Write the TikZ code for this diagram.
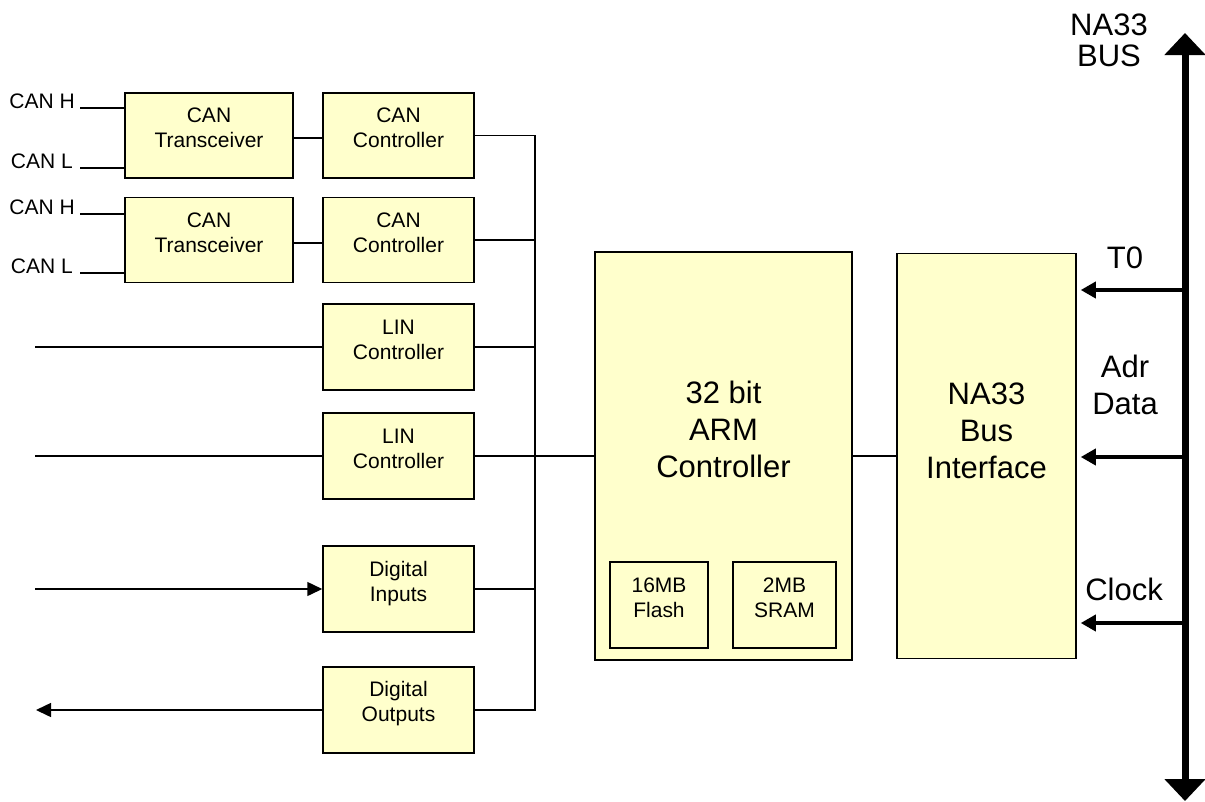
\documentclass[tikz,border=0pt]{standalone}
\usepackage{fontspec}
\setmainfont{Liberation Sans}
\usetikzlibrary{arrows.meta}
\definecolor{boxfill}{HTML}{FFFFCC}
\begin{document}
\begin{tikzpicture}[x=1pt,y=-1pt,
  box/.style={draw=black, line width=1.5pt, fill=boxfill, inner sep=0pt},
  sm/.style={font=\fontsize{21}{25}\selectfont, align=center, inner sep=0pt},
  big/.style={font=\fontsize{31}{37}\selectfont, align=center, inner sep=0pt},
  wire/.style={line width=1.5pt},
  arr/.style={wire, -{Triangle[length=15pt,width=14pt]}},
  barr/.style={line width=3.5pt, -{Triangle[length=15pt,width=16pt]}},
]
\useasboundingbox (0,0) rectangle (1205,801);

% boxes
\node[box, minimum width=168pt, minimum height=85pt] (ct1) at (209,135.5) {};
\node[box, minimum width=168pt, minimum height=85pt] (ct2) at (209,240) {};
\node[box, minimum width=151pt, minimum height=85pt] (cc1) at (398.5,135.5) {};
\node[box, minimum width=151pt, minimum height=85pt] (cc2) at (398.5,240) {};
\node[box, minimum width=151pt, minimum height=86pt] (lin1) at (398.5,347) {};
\node[box, minimum width=151pt, minimum height=86pt] (lin2) at (398.5,456) {};
\node[box, minimum width=151pt, minimum height=86pt] (di) at (398.5,589) {};
\node[box, minimum width=151pt, minimum height=86pt] (do) at (398.5,710) {};
\node[box, minimum width=257pt, minimum height=408pt] (arm) at (723.5,456) {};
\node[box, minimum width=98pt, minimum height=86pt] (fl) at (659,605) {};
\node[box, minimum width=103pt, minimum height=86pt] (sr) at (784.5,605) {};
\node[box, minimum width=179pt, minimum height=405pt] (na) at (986.5,456) {};

% texts
\node[sm] at ([yshift=7.5pt]ct1.center) {CAN\\Transceiver};
\node[sm] at ([yshift=7.5pt]ct2.center) {CAN\\Transceiver};
\node[sm] at ([yshift=7.5pt]cc1.center) {CAN\\Controller};
\node[sm] at ([yshift=7.5pt]cc2.center) {CAN\\Controller};
\node[sm] at ([yshift=7pt]lin1.center) {LIN\\Controller};
\node[sm] at ([yshift=7pt]lin2.center) {LIN\\Controller};
\node[sm] at ([yshift=5pt]di.center) {Digital\\Inputs};
\node[sm] at ([yshift=6pt]do.center) {Digital\\Outputs};
\node[sm] at ([yshift=7.5pt]fl.center) {16MB\\Flash};
\node[sm] at ([yshift=7.5pt]sr.center) {2MB\\SRAM};
\node[big] at ([yshift=27pt]arm.center) {32 bit\\ARM\\Controller};
\node[big] at ([yshift=25pt]na.center) {NA33\\Bus\\Interface};

% CAN bus lines
\coordinate (h1) at (80,108);
\coordinate (l1) at (80,168);
\coordinate (h2) at (80,214);
\coordinate (l2) at (80,273);
\draw[wire] (h1) -- (h1 -| ct1.west);
\draw[wire] (l1) -- (l1 -| ct1.west);
\draw[wire] (h2) -- (h2 -| ct2.west);
\draw[wire] (l2) -- (l2 -| ct2.west);
\node[sm, anchor=base east] at ([xshift=-5pt]h1) {CAN H};
\node[sm, anchor=base east] at ([xshift=-7pt]l1) {CAN L};
\node[sm, anchor=base east] at ([xshift=-5pt]h2) {CAN H};
\node[sm, anchor=base east] at ([xshift=-7pt]l2) {CAN L};

\coordinate (t1) at (0,138);
\coordinate (t2) at (0,243);
\draw[wire] (t1 -| ct1.east) -- (t1 -| cc1.west);
\draw[wire] (t2 -| ct2.east) -- (t2 -| cc2.west);

% left external lines
\coordinate (lx) at (35,0);
\coordinate (ox) at (36,0);
\draw[wire] (lin1.west -| lx) -- (lin1.west);
\draw[wire] (lin2.west -| lx) -- (lin2.west);
\draw[arr] (di.west -| lx) -- (di.west);
\draw[arr] (do.west) -- (do.west -| ox);

% collector
\coordinate (jx) at (535,0);
\draw[wire] (cc1.east) -- (cc1.east -| jx) -- (do.east -| jx) -- (do.east);
\draw[wire] (cc2.east) -- (cc2.east -| jx);
\draw[wire] (lin1.east) -- (lin1.east -| jx);
\draw[wire] (lin2.east) -- (lin2.east -| arm.west);
\draw[wire] (di.east) -- (di.east -| jx);
\draw[wire] (arm.east) -- (na.west);

% NA33 bus
\coordinate (bustop) at (1185,33);
\coordinate (busbot) at (1185,801);
\draw[line width=7pt, {Triangle[length=22pt,width=40pt]}-{Triangle[length=22pt,width=40pt]}] (bustop) -- (busbot);
\node[big, font=\fontsize{31}{31}\selectfont] at (1109,40.4) {NA33\\BUS};

\coordinate (b1) at (1185,290);
\coordinate (b2) at (1185,457);
\coordinate (b3) at (1185,623);
\draw[barr, shorten >=4pt] (b1) -- (b1 -| na.east);
\draw[barr, shorten >=4pt] (b2) -- (b2 -| na.east);
\draw[barr, shorten >=4pt] (b3) -- (b3 -| na.east);
\node[big, anchor=base] at (1125,268) {T0};
\node[big] at (1125,385.2) {Adr\\Data};
\node[big, anchor=base] at (1124,600) {Clock};
\end{tikzpicture}
\end{document}
